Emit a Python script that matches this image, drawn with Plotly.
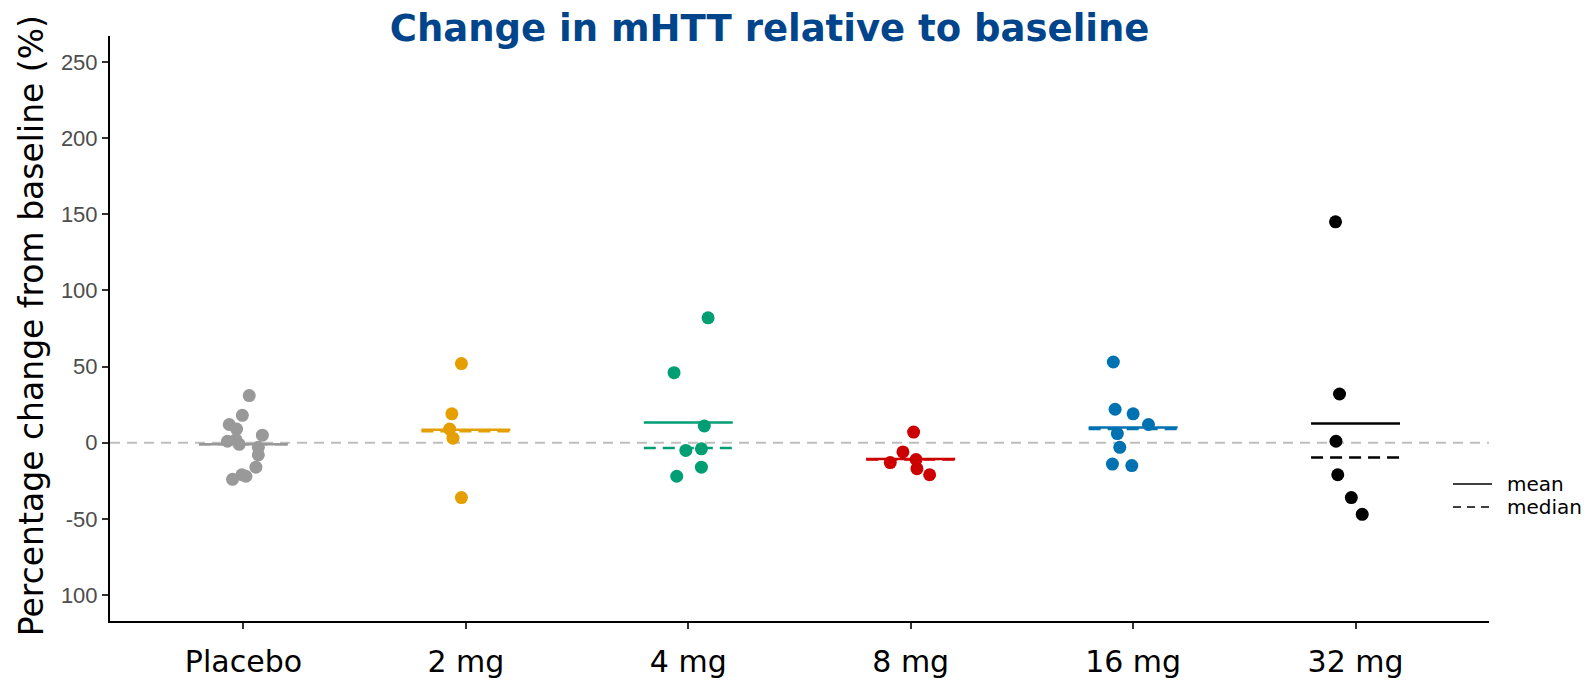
import plotly.graph_objects as go

# Dose groups, left to right
GROUPS = ["Placebo", "2 mg", "4 mg", "8 mg", "16 mg", "32 mg"]
COLORS = ["#999999", "#E69F00", "#009E73", "#CC0000", "#0072B2", "#000000"]

# % change from baseline per participant
PLACEBO = [31, 18, 12, 9, 5, 1, 2, -1, -3, -8, -16, -22, -21, -24]
MG2 = [52, 19, 9, 3, -36]
MG4 = [82, 46, 11, -5, -4, -16, -22]
MG8 = [7, -6, -13, -11, -17, -21]
MG16 = [53, 22, 19, 12, 6, -3, -14, -15]
MG32 = [145, 32, 1, -21, -36, -47]

# horizontal jitter (in category units), same order as the values above
JIT_PLACEBO = [0.026, -0.005, -0.064, -0.031, 0.085, -0.072, -0.034, -0.019, 0.067, 0.067, 0.056, 0.011, -0.007, -0.049]
JIT_MG2 = [-0.02, -0.063, -0.073, -0.058, -0.02]
JIT_MG4 = [0.089, -0.064, 0.072, -0.011, 0.059, 0.059, -0.052]
JIT_MG8 = [0.013, -0.035, -0.092, 0.024, 0.028, 0.085]
JIT_MG16 = [-0.089, -0.081, 0.0, 0.069, -0.071, -0.06, -0.093, -0.006]
JIT_MG32 = [-0.09, -0.072, -0.088, -0.08, -0.019, 0.03]

# summary lines as drawn
MEANS = [-1, 8.5, 13.3, -10.7, 10, 12.7]
MEDIANS = [-1, 7.5, -3.5, -11, 9, -9.6]

Y_TICKS = [-100, -50, 0, 50, 100, 150, 200, 250]
Y_TICKTEXT = ["100", "-50", "0", "50", "100", "150", "200", "250"]

values = [PLACEBO, MG2, MG4, MG8, MG16, MG32]
jitters = [JIT_PLACEBO, JIT_MG2, JIT_MG4, JIT_MG8, JIT_MG16, JIT_MG32]

HALF = 0.2  # half width of the mean / median bars

# page size and plot box in page pixels; the page body adds an 8px margin,
# so the figure itself is made 8px smaller and the left/top margins shrink.
PAGE_W, PAGE_H, OFF = 1596, 682, 8
L, R, T, B = 110, 107, 36, 61
W, H = PAGE_W - OFF, PAGE_H - OFF
PW, PH = PAGE_W - L - R, PAGE_H - T - B

fig = go.Figure()

# dashed zero reference
fig.add_trace(go.Scatter(
    x=[-0.6, 5.6], y=[0, 0], mode="lines",
    line=dict(color="#BEBEBE", width=2, dash="10px,7px"),
    showlegend=False, hoverinfo="skip",
))

for i, (name, col) in enumerate(zip(GROUPS, COLORS)):
    # median first so the solid mean sits on top
    fig.add_trace(go.Scatter(
        x=[i - HALF, i + HALF], y=[MEDIANS[i]] * 2, mode="lines",
        line=dict(color=col, width=2.5, dash="12px,7px"),
        showlegend=False, hoverinfo="skip",
    ))
    fig.add_trace(go.Scatter(
        x=[i - HALF, i + HALF], y=[MEANS[i]] * 2, mode="lines",
        line=dict(color=col, width=2.5),
        showlegend=False, hoverinfo="skip",
    ))
    fig.add_trace(go.Scatter(
        x=[i + j for j in jitters[i]], y=values[i], mode="markers",
        marker=dict(color=col, size=13, line=dict(width=0)),
        name=name, showlegend=False,
    ))


def px_x(px):
    return (px - L) / PW


def px_y(py):
    return (PAGE_H - B - py) / PH


# hand-drawn key (mean / median) at the right edge
for label, ypx, dash in [("mean", 484, "solid"), ("median", 507, "8px,6px")]:
    fig.add_shape(type="line", xref="paper", yref="paper",
                  x0=px_x(1453), x1=px_x(1492), y0=px_y(ypx), y1=px_y(ypx),
                  line=dict(color="black", width=1.5, dash=dash))
    fig.add_annotation(text=label, xref="paper", yref="paper",
                       x=px_x(1505), y=px_y(ypx), xanchor="left", yanchor="middle",
                       showarrow=False,
                       font=dict(family="DejaVu Sans", size=20, color="black"))

fig.update_layout(
    width=W, height=H,
    margin=dict(l=L - OFF, r=R, t=T - OFF, b=B),
    plot_bgcolor="white", paper_bgcolor="white",
    title=dict(
        text="<b>Change in mHTT relative to baseline</b>",
        font=dict(family="DejaVu Sans", size=37, color="#00458C"),
        x=(769.6 - OFF) / W, xanchor="center",
        y=1 - (28.5 - OFF) / H, yanchor="middle",
    ),
    showlegend=False,
)

fig.update_xaxes(
    range=[-0.6, 5.6], tickvals=list(range(len(GROUPS))), ticktext=GROUPS,
    showgrid=False, zeroline=False, showline=True, linecolor="black", linewidth=2,
    ticks="outside", ticklen=6, tickcolor="#333333", tickwidth=1.5,
    tickfont=dict(family="DejaVu Sans", size=30, color="black"),
    ticklabelstandoff=7, automargin=False,
)
fig.update_yaxes(
    range=[-117, 267], tickvals=Y_TICKS, ticktext=Y_TICKTEXT,
    showgrid=False, zeroline=False, showline=True, linecolor="black", linewidth=2,
    ticks="outside", ticklen=6, tickcolor="#333333", tickwidth=1.5,
    tickfont=dict(family="Liberation Sans", size=22, color="#4D4D4D"),
    automargin=False,
)

fig.add_annotation(
    text="Percentage change from baseline (%)", textangle=-90,
    xref="paper", yref="paper", x=px_x(31.6), y=px_y(325.6),
    xanchor="center", yanchor="middle", showarrow=False,
    font=dict(family="DejaVu Sans", size=33, color="black"),
)

fig.write_html("out.html")
